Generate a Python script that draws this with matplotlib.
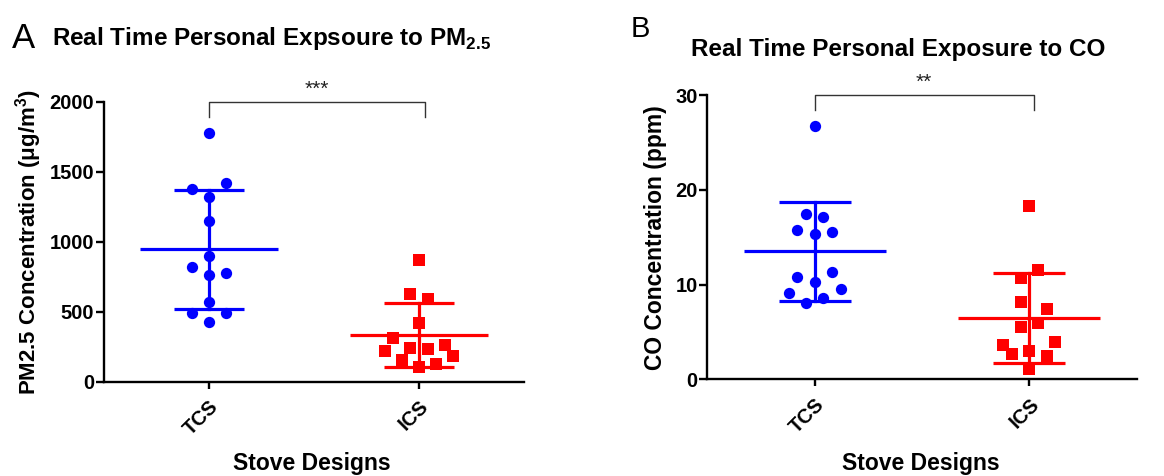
import numpy as np
import matplotlib
matplotlib.use('Agg')
import matplotlib.pyplot as plt

plt.rcParams['font.family'] = ['Liberation Sans', 'DejaVu Sans']
plt.rcParams['mathtext.fontset'] = 'custom'
plt.rcParams['mathtext.rm'] = 'Liberation Sans'
plt.rcParams['mathtext.bf'] = 'Liberation Sans:bold'

groups = ['TCS', 'ICS']

# PM2.5 (ug/m3)
pm_tcs = [1780, 1423, 1376, 1323, 1147, 899, 818, 780, 761, 570, 494, 494, 425]
pm_ics = [870, 627, 589, 417, 312, 217, 243, 234, 265, 186, 155, 129, 107]
# CO (ppm)
co_tcs = [26.76, 17.44, 17.16, 15.75, 15.54, 15.33, 11.32, 10.83, 10.27, 9.53, 9.07, 8.54, 8.02]
co_ics = [18.28, 11.53, 10.69, 8.16, 7.39, 5.91, 5.52, 3.97, 3.59, 2.67, 2.95, 2.46, 1.05]

# horizontal scatter slot of each point (like prism column scatter)
pm_tcs_slot = [0, 2, -2, 0, 0, 0, -2, 2, 0, 0, -2, 2, 0]
pm_ics_slot = [0, -1, 1, 0, -3, -4, -1, 1, 3, 4, -2, 2, 0]
co_tcs_slot = [0, -1, 1, -2, 2, 0, 2, -2, 0, 3, -3, 1, -1]
co_ics_slot = [0, 1, -1, -1, 2, 1, -1, 3, -3, -2, 0, 2, 0]

stars = ['***', '**']

BLUE = '#0000ff'
RED = '#ff0000'
W, H = 1164, 476

fig = plt.figure(figsize=(W / 100, H / 100), dpi=100)
axA = fig.add_axes([104 / W, 1 - 381.7 / H, 420 / W, 279.7 / H])
axB = fig.add_axes([707.3 / W, 1 - 379.3 / H, 429.4 / W, 284.3 / H])


def column(ax, i, vals, slots, color, marker, ms):
    vals = np.array(vals)
    x = i + 0.0405 * np.array(slots)
    ax.scatter(x, vals, s=ms, c=color, marker=marker, linewidths=0, zorder=3)
    m = vals.mean()
    sd = vals.std(ddof=1)
    ax.plot([i - 0.33, i + 0.33], [m, m], color=color, lw=2.3, zorder=2, solid_capstyle='butt')
    ax.plot([i, i], [m - sd, m + sd], color=color, lw=2.3, zorder=2)
    for yy in (m - sd, m + sd):
        ax.plot([i - 0.167, i + 0.167], [yy, yy], color=color, lw=2.3, zorder=2, solid_capstyle='butt')


def style(ax, ymax, step):
    ax.set_xlim(-0.5, 1.5)
    ax.set_ylim(0, ymax)
    ax.set_yticks(np.arange(0, ymax + 1, step))
    ax.set_xticks([0, 1])
    ax.set_xticklabels(groups, rotation=45, ha='right', rotation_mode='anchor',
                       fontsize=14.5, fontweight='bold')
    for t in ax.get_yticklabels():
        t.set_fontweight('bold')
        t.set_fontsize(14.5)
    for s in ['top', 'right']:
        ax.spines[s].set_visible(False)
    for s in ['left', 'bottom']:
        ax.spines[s].set_linewidth(1.7)
    ax.tick_params(axis='y', length=6, width=1.7, pad=1)
    ax.tick_params(axis='x', length=5, width=1.7, pad=6)


def bracket(ax, top, drop, txt, x0=0, x1=1.03):
    ax.plot([x0, x0, x1, x1], [top - drop, top, top, top - drop], color='#333333',
            lw=1, clip_on=False)
    ax.text((x0 + x1) / 2, top + drop * 0.2, txt, ha='center', va='bottom',
            fontsize=15, color='#222222', clip_on=False)


column(axA, 0, pm_tcs, pm_tcs_slot, BLUE, 'o', 66)
column(axA, 1, pm_ics, pm_ics_slot, RED, 's', 78)
style(axA, 2000, 500)
axA.set_ylabel('PM2.5 Concentration (\u03bcg/m$^{\\mathbf{3}}$)', fontsize=16,
               fontweight='bold', labelpad=4)
bracket(axA, 2000, 105, stars[0], 0, 1.03)

column(axB, 0, co_tcs, co_tcs_slot, BLUE, 'o', 66)
column(axB, 1, co_ics, co_ics_slot, RED, 's', 78)
style(axB, 30, 10)
axB.set_ylabel('CO Concentration (ppm)', fontsize=16.5, fontweight='bold', labelpad=6)
bracket(axB, 30, 1.6, stars[1], 0, 1.02)

# titles / panel letters / x labels placed in figure pixels
fig.text(272 / W, 1 - 45 / H, 'Real Time Personal Expsoure to PM$_{\\mathbf{2.5}}$',
         ha='center', va='baseline', fontsize=17.5, fontweight='bold')
fig.text(898 / W, 1 - 56 / H, 'Real Time Personal Exposure to CO',
         ha='center', va='baseline', fontsize=17.5, fontweight='bold')
fig.text(12 / W, 1 - 48 / H, 'A', fontsize=25, va='baseline')
fig.text(631 / W, 1 - 37 / H, 'B', fontsize=21, va='baseline')
fig.text(312 / W, 1 - 470 / H, 'Stove Designs', ha='center', va='baseline',
         fontsize=16.5, fontweight='bold')
fig.text(921 / W, 1 - 470 / H, 'Stove Designs', ha='center', va='baseline',
         fontsize=16.5, fontweight='bold')

fig.savefig('out.png', dpi=100)
